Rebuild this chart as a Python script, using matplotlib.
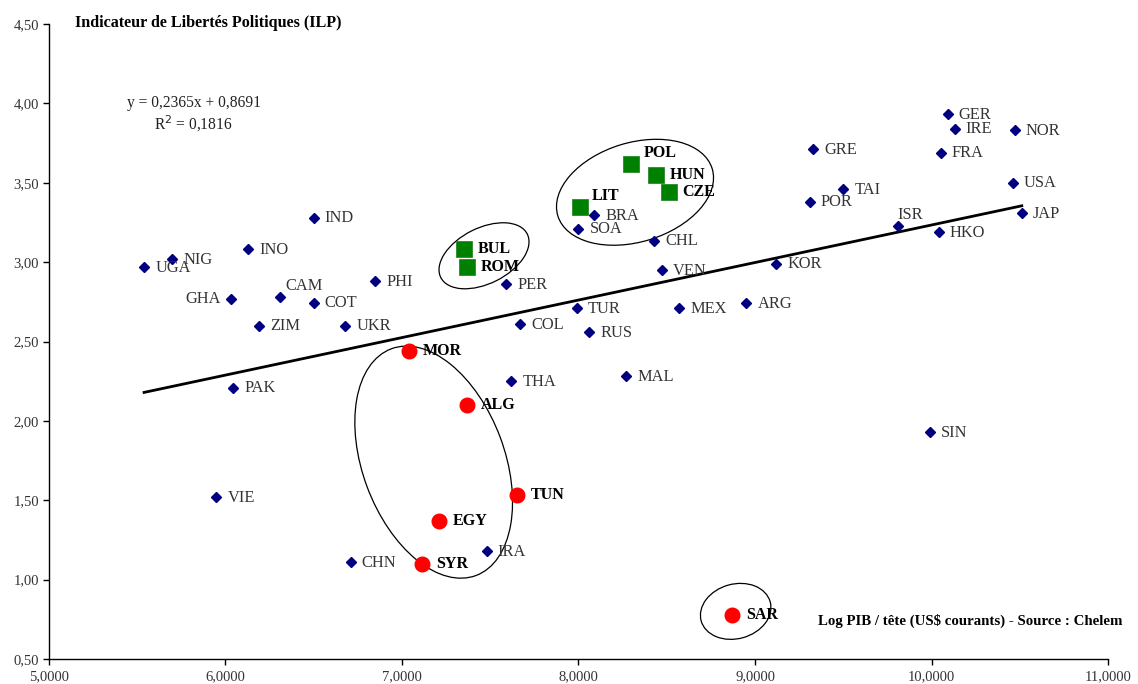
import matplotlib
matplotlib.use("Agg")
import matplotlib.pyplot as plt
import matplotlib.transforms as mtransforms
from matplotlib.patches import Ellipse
from matplotlib.ticker import FuncFormatter, MultipleLocator

plt.rcParams['font.family'] = ['Liberation Serif', 'DejaVu Serif']

# ---- data ----
other_names = ["UGA", "NIG", "INO", "IND", "GHA", "CAM", "COT", "PHI", "ZIM", "UKR",
               "PAK", "VIE", "CHN", "IRA", "THA", "COL", "PER", "SOA", "BRA", "CHL",
               "VEN", "TUR", "RUS", "MEX", "ARG", "MAL", "KOR", "GRE", "POR", "TAI",
               "ISR", "HKO", "SIN", "GER", "IRE", "FRA", "NOR", "USA", "JAP"]
other_x = [5.54, 5.70, 6.13, 6.50, 6.03, 6.31, 6.50, 6.85, 6.19, 6.68,
           6.045, 5.95, 6.71, 7.48, 7.62, 7.67, 7.59, 8.00, 8.09, 8.43,
           8.47, 7.99, 8.06, 8.57, 8.95, 8.27, 9.12, 9.33, 9.31, 9.50,
           9.81, 10.04, 9.99, 10.09, 10.13, 10.05, 10.47, 10.46, 10.51]
other_y = [2.97, 3.02, 3.08, 3.28, 2.77, 2.78, 2.745, 2.88, 2.60, 2.60,
           2.21, 1.52, 1.11, 1.18, 2.25, 2.61, 2.86, 3.21, 3.295, 3.135,
           2.95, 2.71, 2.56, 2.71, 2.74, 2.28, 2.99, 3.71, 3.38, 3.46,
           3.23, 3.19, 1.93, 3.93, 3.84, 3.69, 3.83, 3.50, 3.31]

east_names = ["POL", "HUN", "CZE", "LIT", "BUL", "ROM"]
east_x = [8.30, 8.44, 8.51, 8.01, 7.35, 7.37]
east_y = [3.62, 3.55, 3.44, 3.35, 3.08, 2.97]

arab_names = ["MOR", "ALG", "TUN", "EGY", "SYR", "SAR"]
arab_x = [7.04, 7.37, 7.65, 7.21, 7.115, 8.87]
arab_y = [2.44, 2.10, 1.53, 1.37, 1.10, 0.78]

slope = 0.2365
intercept = 0.8691
r2 = 0.1816

# ---- figure ----
fig = plt.figure(figsize=(11.38, 6.84), dpi=100)
ax = fig.add_axes([48.7 / 1138, 25 / 684, (1108.3 - 48.7) / 1138, (660 - 25) / 684])
ax.set_xlim(5, 11)
ax.set_ylim(0.5, 4.5)

for s in ["top", "right"]:
    ax.spines[s].set_visible(False)
for s in ["left", "bottom"]:
    ax.spines[s].set_linewidth(1.0)
    ax.spines[s].set_color("black")

ax.xaxis.set_major_locator(MultipleLocator(1))
ax.yaxis.set_major_locator(MultipleLocator(0.5))
ax.xaxis.set_major_formatter(FuncFormatter(lambda v, p: f"{v:.4f}".replace(".", ",")))
ax.yaxis.set_major_formatter(FuncFormatter(lambda v, p: f"{v:.2f}".replace(".", ",")))
ax.tick_params(axis="both", direction="out", length=4, width=1, labelsize=10.5,
               labelcolor="#333333", pad=3)
ax.tick_params(axis="x", pad=4)

# trend line
all_x = other_x + east_x + arab_x
x0, x1 = min(all_x), max(all_x)
ax.plot([x0, x1], [slope * x0 + intercept, slope * x1 + intercept],
        color="black", lw=2, zorder=2)

# markers
ax.plot(other_x, other_y, ls="none", marker="D", ms=4.8, color="#000080", zorder=3)
ax.plot(east_x, east_y, ls="none", marker="s", ms=11, color="#008000",
        markeredgecolor="#2a8a2a", markeredgewidth=0.6, zorder=3)
ax.plot(arab_x, arab_y, ls="none", marker="o", ms=10.5, color="#FF0000", zorder=3)

# labels (offsets in points)
special = {"GHA": (-7, 0, "right"), "CAM": (3.5, 8, "left"), "ISR": (-0.5, 8, "left")}
for n, x, y in zip(other_names, other_x, other_y):
    dx, dy, ha = special.get(n, (8, -0.5, "left"))
    ax.annotate(n, (x, y), xytext=(dx, dy), textcoords="offset points",
                ha=ha, va="center", fontsize=11.8, color="#333333", zorder=4)

big_special = {"POL": (8.5, 8), "LIT": (8.5, 7.5)}
for n, x, y in zip(east_names + arab_names, east_x + arab_x, east_y + arab_y):
    dx, dy = big_special.get(n, (10, 0))
    ax.annotate(n, (x, y), xytext=(dx, dy), textcoords="offset points",
                ha="left", va="center", fontsize=11.5, fontweight="bold",
                color="black", zorder=4)

# ellipses (center in data, axes in pixels)
def ring(cx, cy, a_px, b_px, angle):
    tr = fig.dpi_scale_trans + mtransforms.ScaledTranslation(cx, cy, ax.transData)
    e = Ellipse((0, 0), 2 * a_px / 100, 2 * b_px / 100, angle=angle,
                transform=tr, fill=False, ec="black", lw=0.9, zorder=2)
    ax.add_patch(e)

ring(7.18, 1.74, 121, 71, 110.5)
ring(8.32, 3.44, 80.7, 49.6, 17)
ring(7.465, 3.04, 48.4, 27.8, 26.7)
ring(8.89, 0.80, 35.8, 27.3, 15.5)

# texts
fig.text(75 / 1138, 1 - 23 / 684, "Indicateur de Libertés Politiques (ILP)",
         ha="left", va="center", fontsize=11.6, fontweight="bold", color="black")
fig.text(194 / 1138, 1 - 103 / 684,
         f"y = {slope:.4f}x + {intercept:.4f}".replace(".", ","),
         ha="center", va="center", fontsize=11.2, color="#222222")
fig.text(193 / 1138, 1 - 124 / 684, f"R$^2$ = {r2:.4f}".replace(".", ","),
         ha="center", va="center", fontsize=11.2, color="#222222")
fig.text(1123 / 1138, 1 - 621 / 684,
         "Log PIB / tête (US$ courants) - Source : Chelem",
         ha="right", va="center", fontsize=10.7, fontweight="bold", color="black")

fig.savefig("out.png", dpi=100)
